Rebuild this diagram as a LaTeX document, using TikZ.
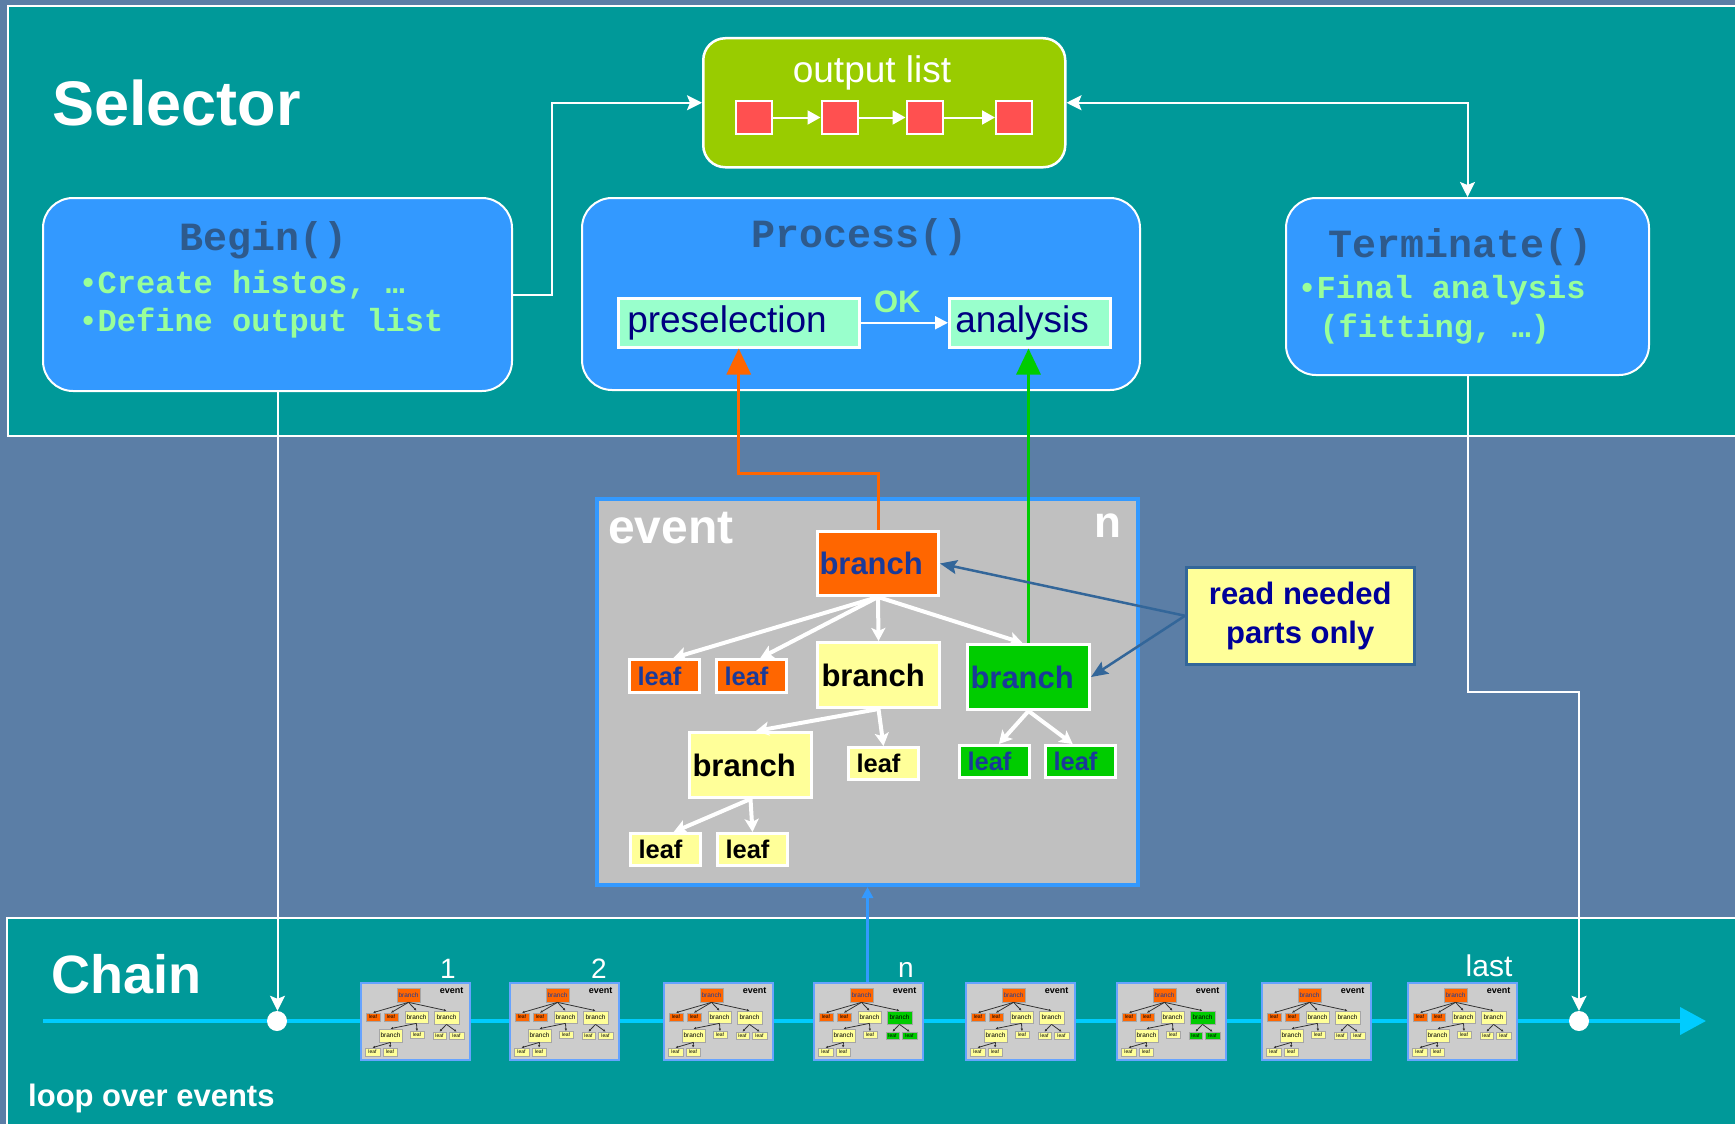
\documentclass[tikz,border=0pt]{standalone}
\usepackage{fontspec}
\setmainfont{Liberation Sans}
\newfontfamily\cour{Liberation Mono}
\usetikzlibrary{arrows.meta}
\newcommand\fsz[2]{\fontsize{#1}{#2}\selectfont}
\definecolor{bgblue}{HTML}{5B7EA6}
\definecolor{tealbg}{HTML}{009999}
\definecolor{boxblue}{HTML}{3399FF}
\definecolor{outgreen}{HTML}{99CC00}
\definecolor{sqred}{HTML}{FF5050}
\definecolor{mint}{HTML}{99FFCC}
\definecolor{navytxt}{HTML}{000080}
\definecolor{titlecol}{HTML}{2E5A8C}
\definecolor{bullgreen}{HTML}{99FF99}
\definecolor{evgray}{HTML}{C0C0C0}
\definecolor{torange}{HTML}{FF6600}
\definecolor{tyellow}{HTML}{FFFF99}
\definecolor{tgreen}{HTML}{00CC00}
\definecolor{branchtxt}{HTML}{1A3A99}
\definecolor{notenavy}{HTML}{000099}
\definecolor{steel}{HTML}{336699}
\definecolor{chaincyan}{HTML}{00CCFF}
\definecolor{thgray}{HTML}{CCCCCC}
\definecolor{thborder}{HTML}{66A3FF}
\tikzset{
  wtip/.tip={Stealth[length=15pt,width=15pt,inset=3pt]},
  ttip/.tip={Stealth[length=13pt,width=14pt,inset=3pt]},
  pics/minievent/.style={code={
    \node[thframe] (-frame) at (0,0) {};
    \node[anchor=base east, font=\fsz{9}{10}\bfseries, text=black] (-lbl) at (107,11) {event};
    \node[mini, fill=torange, minimum width=23pt, minimum height=14pt, text=branchtxt] (-tb) at (48.5,13) {branch};
    \node[mini, fill=torange, minimum width=14pt, minimum height=8pt, font=\fsz{5}{5}] (-l1) at (13,35) {leaf};
    \node[mini, fill=torange, minimum width=14pt, minimum height=8pt, font=\fsz{5}{5}] (-l2) at (31,35) {leaf};
    \node[mini, fill=tyellow, minimum width=23pt, minimum height=12pt] (-mb) at (56.5,35) {branch};
    \node[mini, fill=#1, minimum width=25pt, minimum height=13pt] (-rb) at (86.5,35.5) {branch};
    \node[mini, fill=tyellow, minimum width=23pt, minimum height=13pt] (-lb) at (30.5,53.5) {branch};
    \node[mini, fill=tyellow, minimum width=14pt, minimum height=7pt, font=\fsz{5}{5}] (-ml) at (57,53) {leaf};
    \node[mini, fill=#1, minimum width=13pt, minimum height=7pt, font=\fsz{5}{5}] (-rl1) at (79.5,53.5) {leaf};
    \node[mini, fill=#1, minimum width=15pt, minimum height=7pt, font=\fsz{5}{5}] (-rl2) at (96.5,53.5) {leaf};
    \node[mini, fill=tyellow, minimum width=15pt, minimum height=8pt, font=\fsz{5}{5}] (-bl1) at (12.5,70) {leaf};
    \node[mini, fill=tyellow, minimum width=14pt, minimum height=8pt, font=\fsz{5}{5}] (-bl2) at (30,70) {leaf};
    \draw[miniarr] (-tb.south) -- (-l1.north);
    \draw[miniarr] (-tb.south) -- (-l2.north);
    \draw[miniarr] (-tb.south) -- (-mb.north);
    \draw[miniarr] (-tb.south) -- (-rb.north);
    \draw[miniarr] (-mb.south) -- (-lb.north);
    \draw[miniarr] (-mb.south) -- (-ml.north);
    \draw[miniarr] (-rb.south) -- (-rl1.north);
    \draw[miniarr] (-rb.south) -- (-rl2.north);
    \draw[miniarr] (-lb.south) -- (-bl1.north);
    \draw[miniarr] (-lb.south) -- (-bl2.north);
  }},
  pics/minievent/.default=tyellow
}
\begin{document}
\begin{tikzpicture}[x=1pt,y=-1pt,
  panel/.style={fill=tealbg, draw=white, line width=2pt},
  fbox/.style={rectangle, rounded corners=30pt, fill=boxblue, draw=white, line width=2pt, anchor=north west, inner sep=0pt},
  ftitle/.style={anchor=base, text=titlecol, font=\cour\fsz{40}{44}\bfseries},
  fbullet/.style={anchor=base west, text=bullgreen, font=\cour\fsz{32}{36}\bfseries},
  wconn/.style={draw=white, line width=2pt},
  sqnode/.style={rectangle, fill=sqred, draw=white, line width=2pt, minimum width=36pt, minimum height=33pt, inner sep=0pt},
  sqarr/.style={draw=white, line width=2pt, -{Triangle[length=13pt,width=14pt]}},
  selbox/.style={rectangle, fill=mint, draw=white, line width=2.5pt, anchor=north west, inner ysep=0pt, align=left, text=navytxt, font=\fsz{37}{40}},
  tnode/.style={rectangle, draw=white, line width=3pt, anchor=north west, inner ysep=0pt, inner xsep=3pt, text width=116pt, align=left, font=\fsz{31}{34}\bfseries},
  lnode/.style={rectangle, draw=white, line width=3pt, anchor=north west, inner ysep=0pt, inner xsep=8pt, text width=54pt, align=left, font=\fsz{25.5}{28}\bfseries},
  tarr/.style={draw=white, line width=4pt, -{ttip}},
  notearr/.style={draw=steel, line width=2.5pt, -{Stealth[length=17pt,width=14pt,inset=3pt]}},
  thframe/.style={rectangle, anchor=north west, minimum width=109pt, minimum height=77pt, fill=thgray, draw=thborder, line width=1.5pt, inner sep=0pt},
  mini/.style={rectangle, draw=black!35, line width=0.7pt, inner sep=0pt, font=\fsz{6.5}{7}},
  miniarr/.style={draw=black!80, line width=0.8pt, -{Latex[length=2.5pt,width=2.5pt]}},
  wtext/.style={text=white, inner sep=0pt},
]
\useasboundingbox (0,0) rectangle (1735,1124);
\fill[bgblue] (0,0) rectangle (1735,1124);

% panels
\draw[panel] (8,6) rectangle (1745,436);
\draw[panel] (7,918) rectangle (1745,1134);

% chain line
\coordinate (cstart) at (43,1021);
\coordinate (cend) at (1706,1021);
\draw[draw=chaincyan, line width=4pt, -{Triangle[length=26pt,width=27pt]}] (cstart) -- (cend);

% Selector
\node[wtext, anchor=base west, font=\fsz{63}{70}\bfseries] (seltitle) at (52,125) {Selector};

% output list
\node[rectangle, rounded corners=22pt, fill=outgreen, draw=white, line width=2.5pt, anchor=north west, minimum width=362pt, minimum height=129pt, inner sep=0pt] (outlist) at (702,37) {};
\node[wtext, anchor=base, font=\fsz{37}{40}] (outtitle) at (872,82) {output list};
\node[sqnode] (s1) at (753.5,117.5) {};
\node[sqnode] (s2) at (839.5,117.5) {};
\node[sqnode] (s3) at (924.5,117.5) {};
\node[sqnode] (s4) at (1014,117.5) {};
\draw[sqarr] (s1) -- (s2);
\draw[sqarr] (s2) -- (s3);
\draw[sqarr] (s3) -- (s4);

% function boxes
\node[fbox, minimum width=469pt, minimum height=193pt] (begin) at (42,197) {};
\node[fbox, minimum width=558pt, minimum height=192pt] (process) at (581,197) {};
\node[fbox, minimum width=363pt, minimum height=177pt] (term) at (1285,197) {};

\node[ftitle] (begintitle) at (264,250) {Begin()};
\node[fbullet] (beginb1) at (75,293) {•Create histos, …};
\node[fbullet] (beginb2) at (75,331) {•Define output list};
\node[ftitle] (proctitle) at (860,247) {Process()};
\node[ftitle] (termtitle) at (1461,257) {Terminate()};
\node[fbullet] (termb1) at (1294,298) {•Final analysis};
\node[fbullet] (termb2) at (1316,337) {(fitting, …)};

\node[selbox, inner xsep=9pt, text width=223pt, minimum height=49pt] (presel) at (617,297) {preselection};
\node[selbox, inner xsep=6pt, text width=149pt, minimum height=49pt] (anal) at (948,297) {analysis};
\draw[wconn, -{Triangle[length=13pt,width=13pt]}] (presel.east) -- node[pos=0.42, anchor=base, yshift=10pt, text=bullgreen, font=\fsz{31}{34}\bfseries, inner sep=0pt] (oklbl) {OK} (anal.west);

% connectors selector
\draw[wconn, -{wtip}] (begin.east) -- ++(39,0) |- (outlist.west);
\draw[wconn, {wtip}-{wtip}] (outlist.east) -| (term.north);

% chain dots
\node[circle, fill=white, minimum width=20pt, minimum height=19pt, inner sep=0pt] (dot1) at (277,1021) {};
\node[circle, fill=white, minimum width=20pt, minimum height=19pt, inner sep=0pt] (dot2) at (1579,1021) {};
\draw[wconn, -{wtip}] (begin.south) -- (begin.south |- dot1.north);
\coordinate (tbend) at (1579,692);
\draw[wconn, -{wtip}] (term.south) |- (tbend) -- (dot2.north);

% event box
\node[rectangle, fill=evgray, draw=boxblue, line width=4pt, anchor=north west, minimum width=541pt, minimum height=386pt, inner sep=0pt] (event) at (595,497) {};
\node[wtext, anchor=base west, font=\fsz{48}{52}\bfseries] (evtitle) at (608,543) {event};
\node[wtext, anchor=base west, font=\fsz{44}{48}\bfseries] (evn) at (1094,537) {n};

% tree
\node[tnode, fill=torange, text=branchtxt, inner xsep=2pt, text width=117pt, minimum height=64pt] (tb) at (816,530) {branch};
\node[lnode, fill=torange, text=branchtxt, minimum height=33pt] (l1) at (628,658) {leaf};
\node[lnode, fill=torange, text=branchtxt, minimum height=33pt] (l2) at (715,658) {leaf};
\node[tnode, fill=tyellow, text=black, inner xsep=4pt, text width=114pt, minimum height=65pt] (yb1) at (816,641) {branch};
\node[tnode, fill=tgreen, text=branchtxt, minimum height=65pt] (gb) at (966,643) {branch};
\node[tnode, fill=tyellow, text=black, minimum height=65pt] (yb2) at (688,731) {branch};
\node[lnode, fill=tyellow, text=black, minimum height=32pt] (yl1) at (847,746) {leaf};
\node[lnode, fill=tgreen, text=branchtxt, minimum height=32pt] (gl1) at (958,744) {leaf};
\node[lnode, fill=tgreen, text=branchtxt, minimum height=32pt] (gl2) at (1044,744) {leaf};
\node[lnode, fill=tyellow, text=black, minimum height=32pt] (yl2) at (629,832) {leaf};
\node[lnode, fill=tyellow, text=black, minimum height=32pt] (yl3) at (716,832) {leaf};

\draw[tarr] (tb.south) -- (l1.64);
\draw[tarr] (tb.south) -- (l2.64);
\draw[tarr] (tb.south) -- (yb1.north);
\draw[tarr] (tb.south) -- (gb.100);
\draw[tarr] (yb1.south) -- (yb2.81);
\draw[tarr] (yb1.south) -- (yl1.north);
\draw[tarr] (gb.south) -- (gl1.76);
\draw[tarr] (gb.south) -- (gl2.114);
\draw[tarr] (yb2.south) -- (yl2.65);
\draw[tarr] (yb2.south) -- (yl3.north);

% orange & green
\draw[draw=torange, line width=3pt, -{Triangle[length=26pt,width=24pt]}] (tb.north) -- ++(0,-57) -| (presel.south);
\draw[draw=tgreen, line width=3pt, -{Triangle[length=26pt,width=24pt]}] (gb.north) -- (gb.north |- anal.south);

% note
\node[rectangle, fill=tyellow, draw=steel, line width=2.5pt, anchor=north west, minimum width=228pt, minimum height=97pt, inner sep=0pt, align=center, text=notenavy, font=\fsz{31}{39}\bfseries] (note) at (1185,566) {read needed\\parts only};
\draw[notearr] (note.west) -- (tb.east);
\draw[notearr] (note.west) -- (gb.east);

% Chain
\node[wtext, anchor=base west, font=\fsz{54}{60}\bfseries] (chaintitle) at (51,993) {Chain};
\node[wtext, anchor=base west, font=\fsz{31}{34}\bfseries] (loopl) at (28,1106) {loop over events};

\pic (t1) at (360,982) {minievent};
\pic (t2) at (509,982) {minievent};
\pic (t3) at (663,982) {minievent};
\pic (t4) at (813,982) {minievent=tgreen};
\pic (t5) at (965,982) {minievent};
\pic (t6) at (1116,982) {minievent=tgreen};
\pic (t7) at (1261,982) {minievent};
\pic (t8) at (1407,982) {minievent};

\node[wtext, anchor=base, font=\fsz{28}{30}] (num1) at (448,978) {1};
\node[wtext, anchor=base, font=\fsz{28}{30}] (num2) at (599,978) {2};
\node[wtext, anchor=base, font=\fsz{28}{30}] (numn) at (906,977) {n};
\node[wtext, anchor=base, font=\fsz{30}{32}] (numlast) at (1489,976) {last};

\draw[draw=boxblue, line width=3pt, -{Triangle[length=11pt,width=11pt]}] (event.south |- t4-frame.north) -- (event.south);
\end{tikzpicture}
\end{document}
